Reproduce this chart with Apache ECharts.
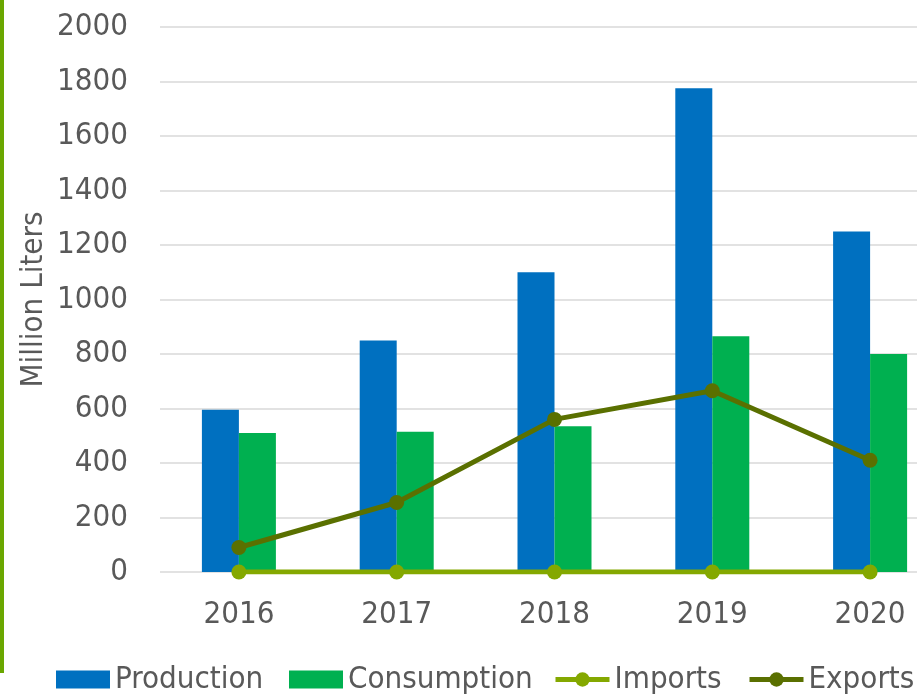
<!DOCTYPE html>
<html>
<head>
<meta charset="utf-8">
<script src="https://cdn.jsdelivr.net/npm/echarts@6/dist/echarts.min.js"></script>
<style>html,body{margin:0;padding:0;background:#fff}#c{width:917px;height:695px}</style>
</head>
<body>
<div id="c"></div>
<script>
const categories = ['2016', '2017', '2018', '2019', '2020'];
const production = [595, 850, 1100, 1775, 1250];
const consumption = [510, 515, 535, 865, 800];
const imports = [0, 0, 0, 0, 0];
const exports = [90, 255, 560, 665, 410];
const yTicks = { min: 0, max: 2000, interval: 200 };
const seriesNames = ['Production', 'Consumption', 'Imports', 'Exports'];

const FONT = "'DejaVu Sans Condensed', 'Noto Sans', sans-serif";
const legendLefts = [56, 289, 553, 747];
const chart = echarts.init(document.getElementById('c'));
chart.setOption({
  animation: false,
  textStyle: { fontFamily: FONT },
  graphic: [{
    type: 'rect', left: 0, top: 0,
    shape: { x: 0, y: 0, width: 4, height: 673 },
    style: { fill: '#6aa700' }
  }],
  grid: { left: 160, width: 789, top: 27, height: 545, outerBoundsMode: 'none', containLabel: false },
  legend: seriesNames.map(function (n, i) {
    return {
      left: legendLefts[i], top: 664, padding: 0, itemWidth: 54, itemHeight: 18,
      textStyle: { fontSize: 31, color: '#595959', fontFamily: FONT },
      lineStyle: { width: 5 },
      data: [i < 2 ? { name: n, icon: 'rect' } : { name: n }]
    };
  }),
  xAxis: {
    type: 'category', data: categories,
    axisLine: { show: false }, axisTick: { show: false },
    axisLabel: { color: '#595959', fontSize: 31, margin: 27, fontFamily: FONT }
  },
  yAxis: {
    type: 'value', min: yTicks.min, max: yTicks.max, interval: yTicks.interval,
    name: 'Million Liters', nameLocation: 'middle', nameGap: 111, nameMoveOverlap: false,
    nameTextStyle: { color: '#595959', fontSize: 31, fontFamily: FONT },
    axisLabel: { color: '#595959', fontSize: 31, margin: 32, fontFamily: FONT,
      formatter: function (v) { return String(v); } },
    splitLine: { lineStyle: { color: '#d9d9d9', width: 1.5 } },
    axisLine: { show: false }, axisTick: { show: false }
  },
  series: [
    { name: 'Production', type: 'bar', data: production, barWidth: 37, barGap: '0%',
      itemStyle: { color: '#0070c0' } },
    { name: 'Consumption', type: 'bar', data: consumption, barWidth: 37,
      itemStyle: { color: '#00b050' } },
    { name: 'Imports', type: 'line', data: imports, symbol: 'circle', symbolSize: 15,
      lineStyle: { width: 5, color: '#84a800' }, itemStyle: { color: '#84a800' } },
    { name: 'Exports', type: 'line', data: exports, symbol: 'circle', symbolSize: 15,
      lineStyle: { width: 5, color: '#5a7000' }, itemStyle: { color: '#5a7000' } }
  ]
});
</script>
</body>
</html>
